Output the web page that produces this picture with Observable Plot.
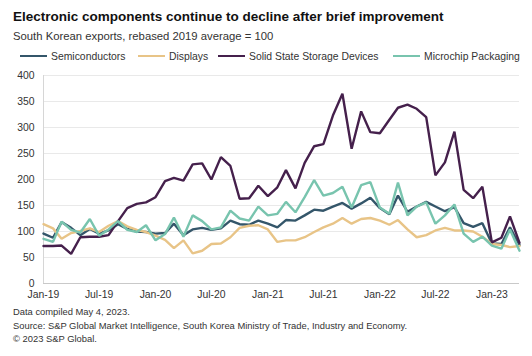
<!DOCTYPE html>
<html><head><meta charset="utf-8">
<script src="https://cdn.jsdelivr.net/npm/d3@7"></script>
<script src="https://cdn.jsdelivr.net/npm/@observablehq/plot@0.6"></script>
<style>
body{margin:0;width:532px;height:356px;background:#fff;font-family:"Liberation Sans",Arial,sans-serif;position:relative;overflow:hidden}
#title{position:absolute;left:13px;top:9px;font-size:13.5px;font-weight:bold;color:#111;line-height:16px;white-space:nowrap}
#subtitle{position:absolute;left:13px;top:29px;font-size:11.3px;color:#333;line-height:14px;white-space:nowrap}
.leg{position:absolute;top:49px;height:14px;display:flex;align-items:center;font-size:10.4px;color:#333;white-space:nowrap}
.sw{width:27px;height:2.5px;margin-right:4px}
#chart{position:absolute;left:0;top:64px}
#footer{position:absolute;left:13px;top:305px;font-size:9.4px;line-height:13.5px;color:#333;white-space:nowrap}
</style></head>
<body>
<div id="title">Electronic components continue to decline after brief improvement</div>
<div id="subtitle">South Korean exports, rebased 2019 average = 100</div>
<div id="legend"></div>
<div id="chart"></div>
<div id="footer">Data compiled May 4, 2023.<br>Source: S&amp;P Global Market Intelligence, South Korea Ministry of Trade, Industry and Economy.<br>© 2023 S&amp;P Global.</div>
<script>
const months = ["2019-01","2019-02","2019-03","2019-04","2019-05","2019-06","2019-07","2019-08","2019-09","2019-10","2019-11","2019-12",
"2020-01","2020-02","2020-03","2020-04","2020-05","2020-06","2020-07","2020-08","2020-09","2020-10","2020-11","2020-12",
"2021-01","2021-02","2021-03","2021-04","2021-05","2021-06","2021-07","2021-08","2021-09","2021-10","2021-11","2021-12",
"2022-01","2022-02","2022-03","2022-04","2022-05","2022-06","2022-07","2022-08","2022-09","2022-10","2022-11","2022-12",
"2023-01","2023-02","2023-03","2023-04"];

const seriesNames = ["Semiconductors","Displays","Solid State Storage Devices","Microchip Packaging"];
const seriesColors = ["#34566a","#e8c487","#45204c","#78c4ae"];

const semiconductors = [96,88,118,107,93,105,96,102,114,105,100,99,96,97,115,93,104,107,103,106,121,114,113,121,115,108,122,121,131,142,140,148,155,144,154,165,145,133,169,138,148,157,148,139,147,116,109,116,77,76,108,74];
const displays = [114,106,86,97,101,106,99,111,120,110,103,99,92,84,68,83,58,63,76,77,89,107,111,112,104,80,83,83,89,99,108,115,126,115,124,126,121,113,122,104,89,93,102,107,102,102,100,90,76,74,70,72];
const storage = [72,72,73,57,89,90,90,93,120,145,153,156,166,197,203,198,229,231,200,243,226,163,164,188,168,185,218,183,232,264,268,323,365,259,331,291,289,315,338,344,336,320,208,233,292,180,164,186,79,88,129,78];
const packaging = [86,80,119,103,98,124,92,104,120,103,99,112,83,95,127,90,131,120,104,108,140,125,121,148,131,134,157,137,166,199,169,174,186,146,189,195,146,134,194,131,148,156,115,131,152,96,80,90,73,67,104,63];

const yTicks = [0,50,100,150,200,250,300,350,400];
const xTickLabels = ["2019-01","2019-07","2020-01","2020-07","2021-01","2021-07","2022-01","2022-07","2023-01"];

const parse = d3.utcParse("%Y-%m");
const dates = months.map(parse);
const allSeries = [semiconductors, displays, storage, packaging];
const data = allSeries.flatMap((vals, s) => vals.map((v, i) => ({date: dates[i], value: v, series: seriesNames[s]})));

// legend
const legendLeft = [20, 138, 218, 393];
const legend = document.getElementById("legend");
seriesNames.forEach((n, i) => {
  const d = document.createElement("div");
  d.className = "leg";
  d.style.left = legendLeft[i] + "px";
  d.innerHTML = `<span class="sw" style="background:${seriesColors[i]}"></span><span>${n}</span>`;
  legend.appendChild(d);
});

const chart = Plot.plot({
  width: 532, height: 239,
  marginLeft: 43, marginRight: 13, marginTop: 11, marginBottom: 20,
  style: {fontFamily: '"Liberation Sans", Arial, sans-serif', color: "#333", background: "transparent"},
  x: {type: "utc", domain: [dates[0], dates[dates.length - 1]]},
  y: {domain: [0, 400]},
  color: {domain: seriesNames, range: seriesColors},
  marks: [
    Plot.gridY(yTicks, {stroke: "#e9e9e9", strokeOpacity: 1}),
    Plot.ruleX([dates[0]], {y1: 0, y2: 400, stroke: "#d6d6d6"}),
    Plot.ruleY([0], {stroke: "#c9c9c9"}),
    Plot.axisY(yTicks, {tickSize: 0, tickPadding: 9, fontSize: 10.4, label: null}),
    Plot.axisX(xTickLabels.map(parse), {tickSize: 0, tickPadding: 7, fontSize: 10.4, label: null, tickFormat: d3.utcFormat("%b-%y")}),
    Plot.line(data, {x: "date", y: "value", z: "series", stroke: "series", strokeWidth: 2.4, strokeLinejoin: "miter"})
  ]
});
document.getElementById("chart").appendChild(chart);
</script>
</body></html>
